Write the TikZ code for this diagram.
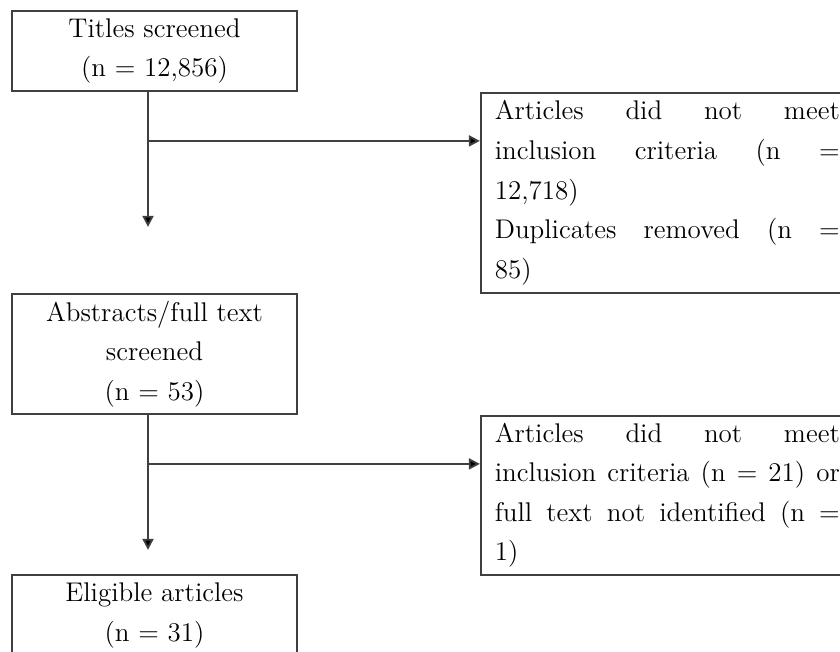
\documentclass[tikz,border=0pt]{standalone}
\usepackage{tikz}
\usetikzlibrary{calc,arrows.meta}

\begin{document}
\begin{tikzpicture}[%
    x=0.5pt, y=-0.5pt,
    >={Triangle[length=5.5pt,width=5.5pt]},
    font=\fontsize{13.5}{19.8}\selectfont,
    stage/.style={draw=black!75, line width=0.9pt, minimum width=142.5pt,
      align=center, inner sep=0pt},
    excl/.style={draw=black!75, line width=0.9pt, anchor=north west,
      text width=172.5pt, align=justify, inner xsep=7pt, inner ysep=0pt}
  ]
    \useasboundingbox (0,0) rectangle (840,652);

    \node[stage, minimum height=40pt]   (titles)    at (154.5,51)    {Titles screened\\(n = 12,856)};
    \node[stage, minimum height=60pt]   (abstracts) at (154.5,354)   {Abstracts/full text\\screened\\(n = 53)};
    \node[stage, minimum height=40.5pt] (eligible)  at (154.5,615.5) {Eligible articles\\(n = 31)};

    \node[excl, minimum height=100pt]  (excl1) at ($(titles.south east)+(182,0)$)
      {Articles did not meet\linebreak inclusion criteria (n =\linebreak 12,718)\\Duplicates removed (n =\linebreak 85)};
    \node[excl, minimum height=79.5pt] (excl2) at ($(abstracts.south east)+(182,0)$)
      {Articles did not meet\linebreak inclusion criteria (n = 21) or\linebreak full text not identified (n =\linebreak 1)};

    \foreach \s/\e in {titles/excl1,abstracts/excl2} {
      \coordinate (drop-\s) at ($(\s.south)+(-6.5,135)$);
      \coordinate (fork-\s) at ($(\s.south)+(-6.5,49)$);
      \path[draw=black!75, line width=0.9pt]
            ($(\s.south)+(-6.5,0)$) edge[->] (drop-\s)
            (fork-\s)               edge[->] (fork-\s -| \e.west);
    };
\end{tikzpicture}
\end{document}
